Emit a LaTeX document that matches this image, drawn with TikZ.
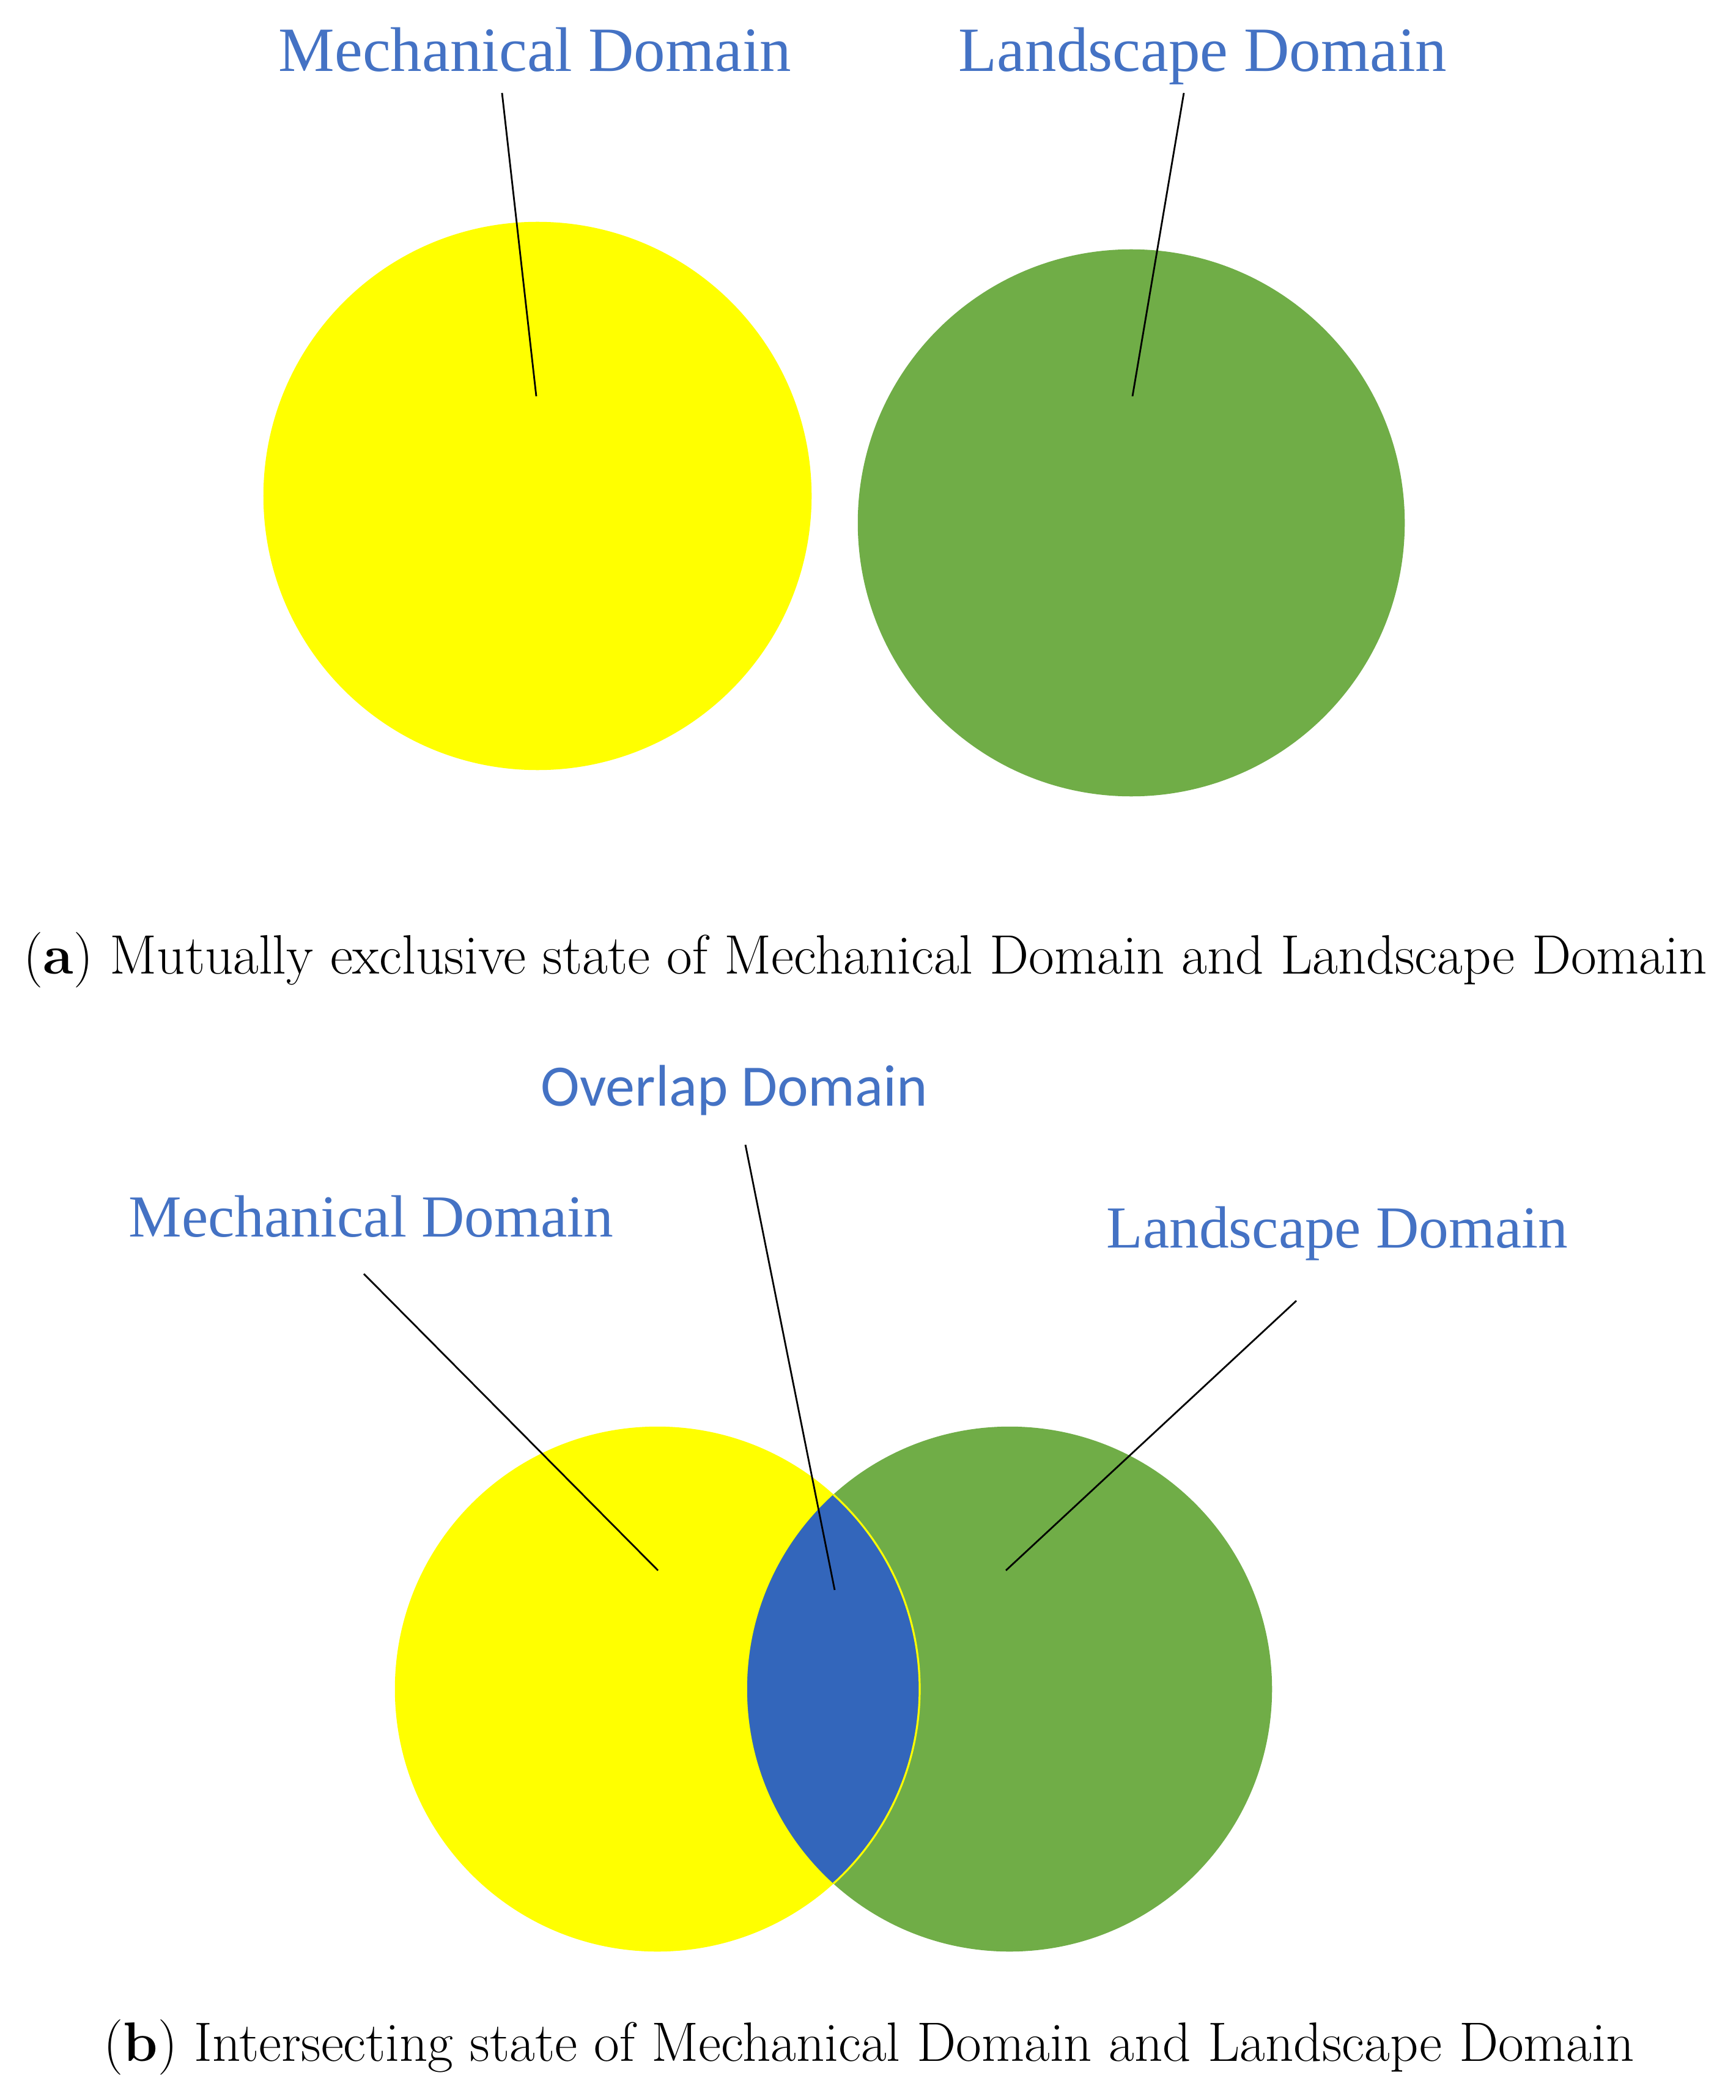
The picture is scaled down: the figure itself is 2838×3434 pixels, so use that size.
\documentclass[tikz,border=0pt]{standalone}
\usepackage{fontspec}
\newfontfamily\timesf{Liberation Serif}
\newfontfamily\calibrif{Carlito}
\definecolor{lblue}{HTML}{4472C4}
\definecolor{mgreen}{HTML}{70AD47}
\definecolor{ovblue}{HTML}{3366BB}
\definecolor{myyellow}{HTML}{FFFF00}
\begin{document}
\begin{tikzpicture}[x=0.01cm,y=-0.01cm,
  lblA/.style={anchor=base, inner sep=0pt, text=lblue, font=\timesf\fontsize{29.3pt}{32pt}\selectfont},
  lblB/.style={anchor=base, inner sep=0pt, text=lblue, font=\timesf\fontsize{27.7pt}{31pt}\selectfont},
  lblO/.style={anchor=base, inner sep=0pt, text=lblue, font=\calibrif\fontsize{27.3pt}{31pt}\selectfont},
  capt/.style={anchor=base, inner sep=0pt, text=black, font=\fontsize{25.8pt}{30pt}\selectfont},
  disc/.style={circle, inner sep=0pt, draw=none},
  conn/.style={draw=black, line width=0.8pt}]
\useasboundingbox (0,0) rectangle (2838,3434);
\fill[white] (0,0) rectangle (2838,3434);

% ---------- (a) ----------
\node[disc, fill=myyellow, minimum size=8.96cm] (ymA) at (879,811) {};
\node[disc, fill=mgreen, minimum size=8.94cm] (grA) at (1850,855) {};
\node[lblA] (tMA) at (875,117) {Mechanical Domain};
\node[lblA] (tLA) at (1967,117) {Landscape Domain};
\coordinate (mA1) at (821,152);
\coordinate (mA2) at (877,648);
\coordinate (lA1) at (1936,152);
\coordinate (lA2) at (1852,648);
\draw[conn] (mA1) -- (mA2);
\draw[conn] (lA1) -- (lA2);
\node[capt] (capA) at (1415,1592) {(\textbf{a}) Mutually exclusive state of Mechanical Domain and Landscape Domain};

% ---------- (b) ----------
\node[disc, fill=myyellow, minimum size=8.58cm] (ymB) at (1075,2762) {};
\node[disc, fill=mgreen, minimum size=8.58cm] (grB) at (1651,2762) {};
\begin{scope}
  \clip (1075,2762) circle (429);
  \fill[ovblue] (1651,2762) circle (429);
\end{scope}
\begin{scope}
  \clip (1651,2762) circle (429);
  \draw[myyellow, line width=0.9pt] (1075,2762) circle (429);
\end{scope}
\node[lblO] (tOB) at (1201,1808) {Overlap Domain};
\node[lblB] (tMB) at (607,2022) {Mechanical Domain};
\node[lblB] (tLB) at (2187,2040) {Landscape Domain};
\coordinate (oB1) at (1219,1872);
\coordinate (oB2) at (1365,2600);
\coordinate (mB1) at (595,2083);
\coordinate (mB2) at (1076,2568);
\coordinate (lB1) at (2120,2127);
\coordinate (lB2) at (1645,2568);
\draw[conn] (oB1) -- (oB2);
\draw[conn] (mB1) -- (mB2);
\draw[conn] (lB1) -- (lB2);
\node[capt] (capB) at (1421,3370) {(\textbf{b}) Intersecting state of Mechanical Domain and Landscape Domain};
\end{tikzpicture}
\end{document}
